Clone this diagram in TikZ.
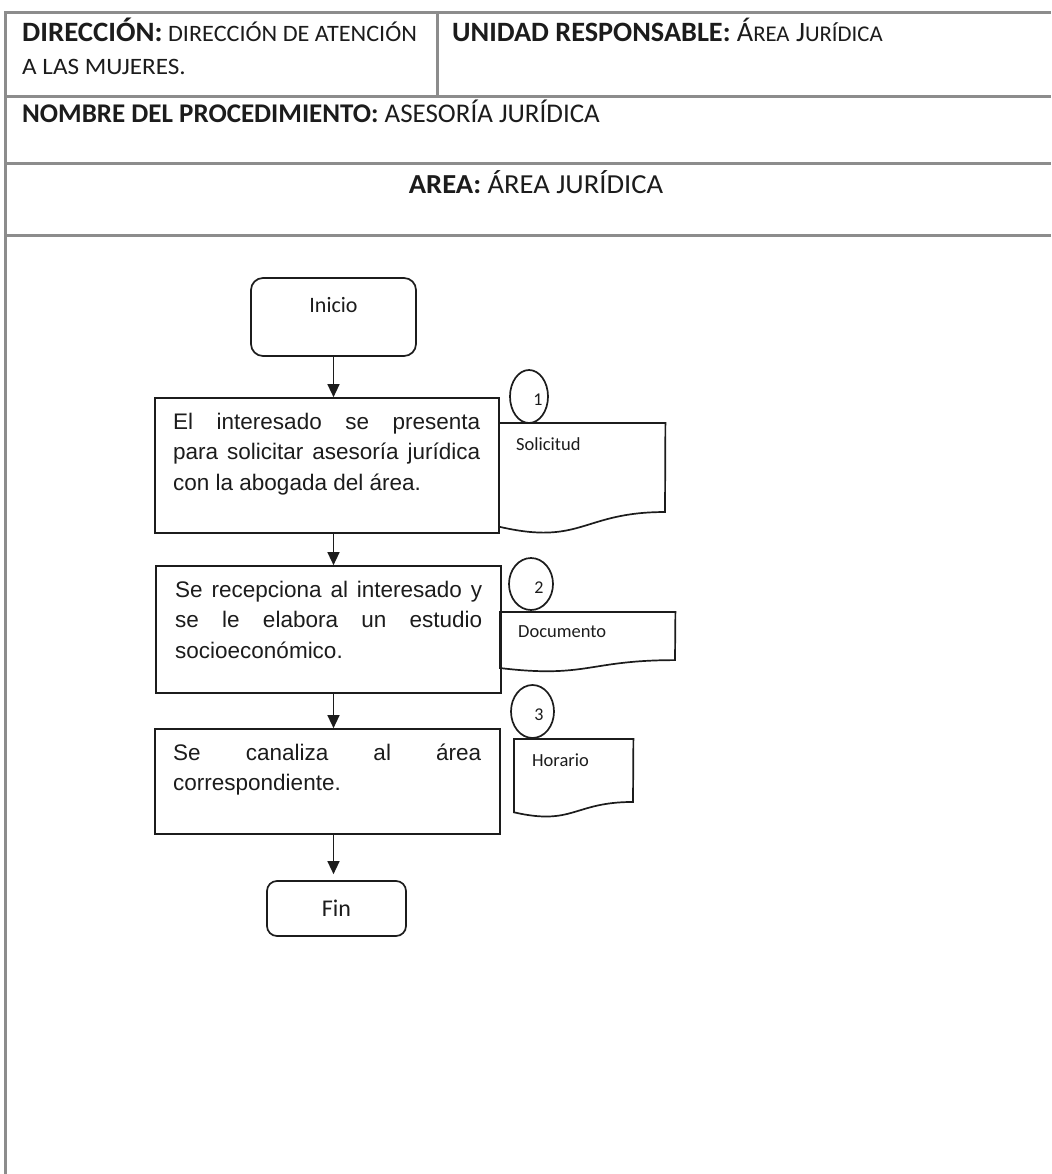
\documentclass[tikz,border=0pt]{standalone}
\usepackage{fontspec}
\setmainfont{Carlito}
\newfontfamily\arialf{Liberation Sans}
\usetikzlibrary{shapes.geometric,arrows.meta,calc}
\definecolor{rule}{RGB}{140,140,140}
\definecolor{ink}{RGB}{28,28,28}
\newcommand{\fs}[1]{\fontsize{#1}{#1}\selectfont}
\hyphenpenalty=10000
\exhyphenpenalty=10000
\newcommand{\flowdoc}[5]{%
  \node[inner sep=0,minimum width=#4,minimum height=#5,anchor=north west] (#1) at (#2,#3) {};
  \draw[boxline] (#1.north west) -- (#1.north east)
    -- ($(#1.north west)+(#4,0.802*#5)$)
    .. controls ($(#1.north west)+(0.5*#4,0.802*#5)$) and ($(#1.north west)+(0.5*#4,1.108*#5)$)
    .. ($(#1.north west)+(0,0.934*#5)$) -- cycle;}
\begin{document}
\begin{tikzpicture}[x=1pt,y=-1pt,
  rulel/.style={draw=rule,line width=3pt},
  hdr/.style={inner sep=0,anchor=base west,text=ink},
  boxline/.style={draw=ink,line width=1.7pt},
  procbox/.style={boxline,rectangle,inner sep=0},
  termbox/.style={boxline,rectangle,rounded corners=12pt,inner sep=0,font=\fs{22},text=ink},
  ptext/.style={inner sep=0,text width=307pt,align=justify,anchor=north west,text=ink,font=\arialf\fontsize{22.5}{30.5}\selectfont},
  doctext/.style={inner sep=0,anchor=base west,text=ink,font=\fs{18.5}},
  numcirc/.style={boxline,ellipse,inner sep=0},
  numtext/.style={inner sep=0,anchor=base,text=ink,font=\fs{18}},
  arr/.style={draw=ink,line width=1.5pt,-{Triangle[width=12pt,length=13pt]}}
]
\useasboundingbox (0,0) rectangle (1051,1174);
\fill[white] (0,0) rectangle (1051,1174);

% table frame
\draw[rulel,line join=miter] (5,1174) -- (5,13) -- (1051,13);
\draw[rulel] (5,97) -- (1051,97);
\draw[rulel] (5,164) -- (1051,164);
\draw[rulel] (5,236) -- (1051,236);
\draw[rulel] (437,13) -- (437,97);

% header texts
\node[hdr] (dir) at (22,42) {\scalebox{1.03}[1]{\fs{23.5}{\bfseries\fs{28}DIRECCIÓN:} DIRECCIÓN DE ATENCIÓN}};
\node[hdr] (dir2) at (22,75) {\scalebox{1.07}[1]{\fs{23.5}A LAS MUJERES.}};
\node[hdr] (uni) at (452,42) {\scalebox{1.01}[1]{\fs{28}{\bfseries UNIDAD RESPONSABLE:} Á{\fs{22.5}REA} J{\fs{22.5}URÍDICA}}};
\node[hdr] (nom) at (22,123) {\fs{27}{\bfseries NOMBRE DEL PROCEDIMIENTO:} ASESORÍA JURÍDICA};
\node[hdr,anchor=base] (area) at (536,194) {\scalebox{1.04}[1]{\fs{27.5}{\bfseries AREA:} ÁREA JURÍDICA}};

% flow
\node[termbox,minimum width=165,minimum height=78,text height=15pt,text depth=25pt] (inicio) at (333.5,317) {Inicio};

\node[procbox,minimum width=344,minimum height=135] (box1) at (327,465.5) {};
\node[ptext] (t1) at (173,407.65) {\strut El interesado se presenta\linebreak para solicitar asesoría jurídica\linebreak con la abogada del área.};

\node[procbox,minimum width=345,minimum height=127] (box2) at (328.5,629.5) {};
\node[ptext] (t2) at (175,575.65) {\strut Se recepciona al interesado y\linebreak se le elabora un estudio\linebreak socioeconómico.};

\node[procbox,minimum width=345,minimum height=105] (box3) at (327.5,781.5) {};
\node[ptext,text width=308pt] (t3) at (173,738.65) {\strut Se canaliza al área\linebreak correspondiente.};

\node[termbox,rounded corners=10pt,minimum width=139,minimum height=55,font=\fs{24}] (fin) at (336.5,908.5) {Fin};

% documents
\flowdoc{d1}{499}{423}{166}{111}
\node[doctext] (d1t) at (516,450) {Solicitud};
\flowdoc{d2}{500}{612}{175}{60}
\node[doctext] (d2t) at (518,637) {Documento};
\flowdoc{d3}{514}{739}{119}{78.5}
\node[doctext] (d3t) at (532,766) {Horario};

% numbered circles
\node[numcirc,minimum width=38,minimum height=53] (c1) at (529,396.5) {};
\node[numtext] (n1) at (538,405) {1};
\node[numcirc,minimum width=44,minimum height=52] (c2) at (531,584) {};
\node[numtext] (n2) at (539,593) {2};
\node[numcirc,minimum width=43,minimum height=53] (c3) at (532.5,711.5) {};
\node[numtext] (n3) at (539,720) {3};

% arrows
\draw[arr] (inicio.south) -- (inicio.south |- box1.north);
\draw[arr] (box1.south -| inicio.south) -- (box2.north -| inicio.south);
\draw[arr] (box2.south -| inicio.south) -- (box3.north -| inicio.south);
\draw[arr,shorten >=6pt] (box3.south -| inicio.south) -- (fin.north -| inicio.south);
\end{tikzpicture}
\end{document}
